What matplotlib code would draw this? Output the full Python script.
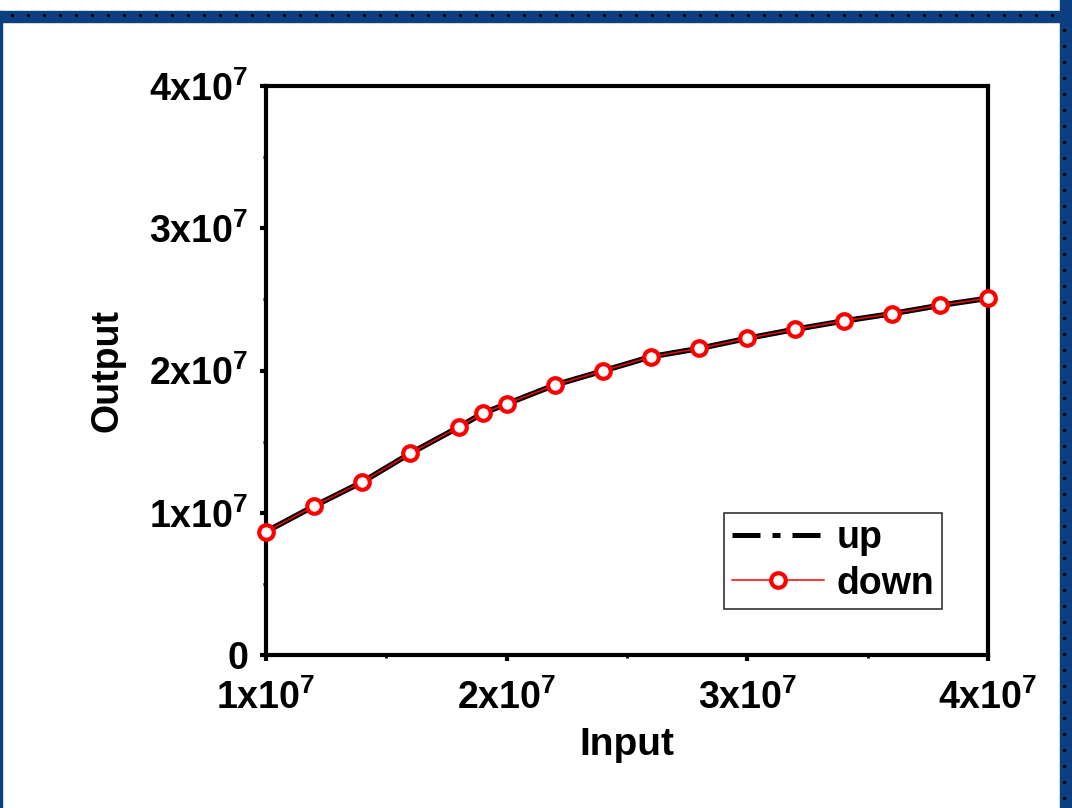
import matplotlib
matplotlib.use("Agg")
import matplotlib.pyplot as plt
from matplotlib.lines import Line2D
from matplotlib.patches import Rectangle
import numpy as np

# ---- data ----
x_input = [1.0e7, 1.2e7, 1.4e7, 1.6e7, 1.8e7, 1.9e7, 2.0e7, 2.2e7, 2.4e7, 2.6e7,
           2.8e7, 3.0e7, 3.2e7, 3.4e7, 3.6e7, 3.8e7, 4.0e7]
y_up = [0.867e7, 1.047e7, 1.216e7, 1.418e7, 1.601e7, 1.699e7, 1.765e7, 1.898e7, 1.997e7,
        2.097e7, 2.155e7, 2.226e7, 2.290e7, 2.348e7, 2.399e7, 2.458e7, 2.508e7]
y_down = list(y_up)
x_ticks = [1e7, 2e7, 3e7, 4e7]
x_tick_labels = ["1x10$^{7}$", "2x10$^{7}$", "3x10$^{7}$", "4x10$^{7}$"]
y_ticks = [0, 1e7, 2e7, 3e7, 4e7]
y_tick_labels = ["0", "1x10$^{7}$", "2x10$^{7}$", "3x10$^{7}$", "4x10$^{7}$"]

plt.rcParams['font.family'] = ['Liberation Sans', 'DejaVu Sans']
plt.rcParams['font.weight'] = 'bold'
plt.rcParams['mathtext.fontset'] = 'custom'
plt.rcParams['mathtext.rm'] = 'Liberation Sans:bold'
plt.rcParams['mathtext.it'] = 'Liberation Sans:bold'
plt.rcParams['mathtext.bf'] = 'Liberation Sans:bold'
plt.rcParams['mathtext.default'] = 'regular'

fig = plt.figure(figsize=(10.72, 8.08), dpi=100)

# decorative blue dotted frame
blue = '#0c3f7f'
fig.add_artist(Rectangle((0, 1 - 22/808), 1, 11/808, transform=fig.transFigure, color=blue, zorder=0))
fig.add_artist(Rectangle((0, 0), 2/1072, 1 - 11/808, transform=fig.transFigure, color=blue, zorder=0))
fig.add_artist(Rectangle((1060/1072, 0), 12/1072, 1, transform=fig.transFigure, color=blue, zorder=0))
dx = np.arange(12, 1060, 16)
fig.add_artist(Line2D(dx/1072, np.full(dx.shape, 1 - 15/808), transform=fig.transFigure,
                      ls='none', marker='s', ms=1.2, color='black'))
dy = np.arange(30, 808, 16)
fig.add_artist(Line2D(np.full(dy.shape, 1064/1072), 1 - dy/808, transform=fig.transFigure,
                      ls='none', marker='s', ms=1.2, color='black'))

ax = fig.add_axes([266/1072, 1 - 655/808, (988 - 266)/1072, (655 - 86)/808])

ax.plot(x_input, y_up, color='black', lw=4.0, zorder=2)
ax.plot(x_input, y_down, color='red', lw=1.1, marker='o', ms=10.5, mew=3.0,
        mfc='white', mec='red', zorder=3, clip_on=False)

ax.set_xlim(1e7, 4e7)
ax.set_ylim(0, 4e7)
ax.set_xticks(x_ticks)
ax.set_xticklabels(x_tick_labels)
ax.set_yticks(y_ticks)
ax.set_yticklabels(y_tick_labels)
ax.set_xticks([1.5e7, 2.5e7, 3.5e7], minor=True)
ax.set_yticks([0.5e7, 1.5e7, 2.5e7, 3.5e7], minor=True)

for s in ax.spines.values():
    s.set_linewidth(3)
ax.tick_params(which='major', direction='out', length=4.5, width=3, labelsize=27)
ax.tick_params(axis='x', which='major', pad=13)
ax.tick_params(axis='y', which='major', pad=8)
ax.tick_params(which='minor', direction='out', length=2.5, width=2)
for lab in ax.get_xticklabels() + ax.get_yticklabels():
    lab.set_fontweight('bold')

ax.set_xlabel('Input', fontsize=28, fontweight='bold', labelpad=7)
ax.set_ylabel('Output', fontsize=27, fontweight='bold', labelpad=17)

h_up = Line2D([], [], color='black', lw=3.6, dashes=(5.6, 2.4, 1.6, 2.4))
h_down = Line2D([], [], color='red', lw=1.1, marker='o', ms=10.5, mew=3.0, mfc='white', mec='red')
leg = ax.legend([h_up, h_down], ['up', 'down'], loc='lower right',
                bbox_to_anchor=(942/1072, 1 - 609/808), bbox_transform=fig.transFigure,
                fontsize=27, frameon=True, fancybox=False, handlelength=2.45,
                handletextpad=0.35, borderpad=0.2, labelspacing=0.25, borderaxespad=0)
leg.get_frame().set_edgecolor('black')
leg.get_frame().set_linewidth(1.2)
for t in leg.get_texts():
    t.set_fontweight('bold')

fig.savefig('out.png', dpi=100)
